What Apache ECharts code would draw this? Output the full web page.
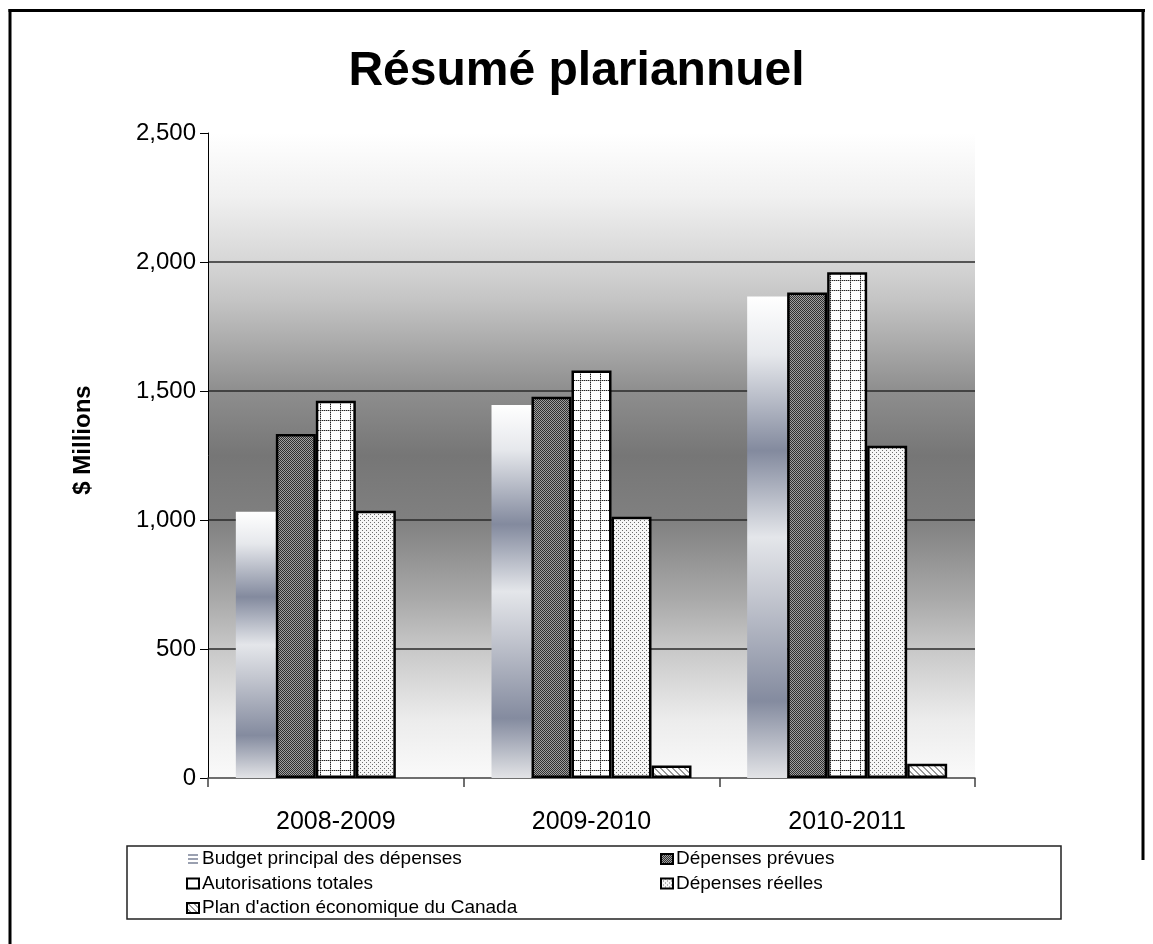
<!DOCTYPE html>
<html>
<head>
<meta charset="utf-8">
<script src="https://cdn.jsdelivr.net/npm/echarts@6/dist/echarts.min.js"></script>
<style>
html,body{margin:0;padding:0;background:#fff;}
#chart{width:1153px;height:944px;}
</style>
</head>
<body>
<div id="chart"></div>
<script>
// ---- data ----
const categories = ['2008-2009', '2009-2010', '2010-2011'];
const seriesNames = ['Budget principal des dépenses', 'Dépenses prévues', 'Autorisations totales', 'Dépenses réelles', "Plan d'action économique du Canada"];
const budgetValues = [1032, 1446, 1866];
const prevuesValues = [1333, 1478, 1882];
const autorisationsValues = [1462, 1579, 1960];
const reellesValues = [1036, 1013, 1288];
const planValues = [0, 48, 55];
const yMin = 0, yMax = 2500, yInterval = 500;
const chartTitle = 'Résumé plariannuel';
const yAxisTitle = '$ Millions';

// ---- patterns ----
function makePattern(w, h, draw) {
  const c = document.createElement('canvas');
  c.width = w; c.height = h;
  const ctx = c.getContext('2d');
  draw(ctx);
  return { image: c, repeat: 'repeat' };
}
const patPrevues = makePattern(2, 2, ctx => {
  ctx.fillStyle = '#a0a0a0'; ctx.fillRect(0, 0, 2, 2);
  ctx.fillStyle = '#303030'; ctx.fillRect(0, 0, 1, 1); ctx.fillRect(1, 1, 1, 1);
});
const patAutor = makePattern(10, 10, ctx => {
  ctx.fillStyle = '#ffffff'; ctx.fillRect(0, 0, 10, 10);
  for (let i = 0; i < 10; i++) {
    ctx.fillStyle = (i % 2 === 0) ? '#222' : '#aaa';
    ctx.fillRect(i, 0, 1, 1);
    ctx.fillRect(0, i, 1, 1);
  }
});
const patReelles = makePattern(4, 4, ctx => {
  ctx.fillStyle = '#f6f6f6'; ctx.fillRect(0, 0, 4, 4);
  ctx.fillStyle = '#6e6e6e'; ctx.fillRect(0, 0, 1, 1); ctx.fillRect(2, 2, 1, 1);
});
const patPlan = makePattern(6, 6, ctx => {
  ctx.fillStyle = '#ffffff'; ctx.fillRect(0, 0, 6, 6);
  ctx.fillStyle = '#9a9a9a';
  for (let y = 0; y < 6; y++) for (let x = 0; x < 6; x++) {
    if (((x - y) % 6 + 6) % 6 < 2) ctx.fillRect(x, y, 1, 1);
  }
});
const budgetGrad = new echarts.graphic.LinearGradient(0, 0, 0, 1, [
  { offset: 0, color: '#ffffff' },
  { offset: 0.12, color: '#e6e8ec' },
  { offset: 0.32, color: '#838a9e' },
  { offset: 0.5, color: '#e4e6ea' },
  { offset: 0.62, color: '#c4c7d0' },
  { offset: 0.84, color: '#848b9f' },
  { offset: 1, color: '#e2e3e6' }
]);
const bgGrad = new echarts.graphic.LinearGradient(0, 0, 0, 1, [
  { offset: 0, color: '#ffffff' },
  { offset: 0.1, color: '#f0f0f0' },
  { offset: 0.2, color: '#d6d6d6' },
  { offset: 0.26, color: '#c4c4c4' },
  { offset: 0.4, color: '#8e8e8e' },
  { offset: 0.5, color: '#767676' },
  { offset: 0.6, color: '#808080' },
  { offset: 0.72, color: '#a8a8a8' },
  { offset: 0.8, color: '#c8c8c8' },
  { offset: 0.91, color: '#ececec' },
  { offset: 1, color: '#fafafa' }
]);

const FONT = 'Liberation Sans, Arial, sans-serif';
const outline = { borderColor: '#000', borderWidth: 2.5 };

function barSeries(name, values, itemStyle) {
  return {
    name: name, type: 'bar', barWidth: 40, barGap: '0%',
    data: values.map(v => v === 0 ? null : v),
    itemStyle: itemStyle,
    emphasis: { disabled: true },
    silent: true
  };
}

const legendText = { fontSize: 19, fontFamily: FONT, color: '#000', lineHeight: 20, padding: [0, 0, 0, -2] };

const chart = echarts.init(document.getElementById('chart'));
chart.setOption({
  animation: false,
  backgroundColor: '#ffffff',
  title: {
    text: chartTitle, left: 'center', top: 43,
    textStyle: { fontSize: 48, fontWeight: 'bold', fontFamily: FONT, color: '#000' }
  },
  grid: {
    left: 208, right: 178, top: 133, bottom: 166,
    show: true, backgroundColor: bgGrad, borderWidth: 0
  },
  legend: [
    {
      orient: 'vertical', left: 186, top: 849, padding: 0, itemGap: 4.5,
      itemWidth: 12, itemHeight: 10, selectedMode: false,
      textStyle: legendText,
      data: [
        { name: seriesNames[0], icon: 'path://M0,0H10V2H0Z M0,4H10V6H0Z M0,8H10V10H0Z', itemStyle: { color: '#9aa0b0', borderWidth: 0 } },
        { name: seriesNames[2], icon: 'rect', itemStyle: { color: '#fff', borderColor: '#000', borderWidth: 2 } },
        { name: seriesNames[4], icon: 'rect', itemStyle: { color: patPlan, borderColor: '#000', borderWidth: 2 } }
      ]
    },
    {
      orient: 'vertical', left: 660, top: 849, padding: 0, itemGap: 4.5,
      itemWidth: 12, itemHeight: 10, selectedMode: false,
      textStyle: legendText,
      data: [
        { name: seriesNames[1], icon: 'rect', itemStyle: { color: patPrevues, borderColor: '#000', borderWidth: 2 } },
        { name: seriesNames[3], icon: 'rect', itemStyle: { color: patReelles, borderColor: '#000', borderWidth: 2 } }
      ]
    }
  ],
  xAxis: {
    type: 'category', data: categories,
    axisLine: { show: true, lineStyle: { color: '#404040', width: 1.5 } },
    axisTick: { show: true, length: 9, lineStyle: { color: '#404040', width: 1.5 } },
    axisLabel: { fontSize: 25, fontFamily: FONT, color: '#000', margin: 32 },
    splitLine: { show: false }
  },
  yAxis: {
    type: 'value', min: yMin, max: yMax, interval: yInterval,
    axisLine: { show: true, lineStyle: { color: '#000', width: 1 } },
    axisTick: { show: true, length: 8, lineStyle: { color: '#000', width: 1 } },
    axisLabel: { fontSize: 24, fontFamily: FONT, color: '#000', margin: 12,
      formatter: v => v.toLocaleString('en-US') },
    splitLine: { show: true, showMinLine: false, showMaxLine: false, lineStyle: { color: '#2a2a2a', width: 1.5 } }
  },
  series: [
    barSeries(seriesNames[0], budgetValues, { color: budgetGrad, borderWidth: 0 }),
    barSeries(seriesNames[1], prevuesValues, Object.assign({ color: patPrevues }, outline)),
    barSeries(seriesNames[2], autorisationsValues, Object.assign({ color: patAutor }, outline)),
    barSeries(seriesNames[3], reellesValues, Object.assign({ color: patReelles }, outline)),
    barSeries(seriesNames[4], planValues, Object.assign({ color: patPlan }, outline))
  ],
  graphic: [
    { type: 'text', x: 83, y: 440, rotation: Math.PI / 2, silent: true,
      style: { text: yAxisTitle, font: 'bold 24px ' + FONT, align: 'center', verticalAlign: 'middle', fill: '#000' } },
    { type: 'rect', silent: true, shape: { x: 127, y: 846, width: 934, height: 73 },
      style: { fill: 'none', stroke: '#222', lineWidth: 1.5 } },
    { type: 'line', silent: true, shape: { x1: 10, y1: 9, x2: 10, y2: 944 }, style: { stroke: '#000', lineWidth: 3 } },
    { type: 'line', silent: true, shape: { x1: 8.5, y1: 10.5, x2: 1145, y2: 10.5 }, style: { stroke: '#000', lineWidth: 3 } },
    { type: 'line', silent: true, shape: { x1: 1143, y1: 9, x2: 1143, y2: 860 }, style: { stroke: '#000', lineWidth: 3 } }
  ]
});
</script>
</body>
</html>
